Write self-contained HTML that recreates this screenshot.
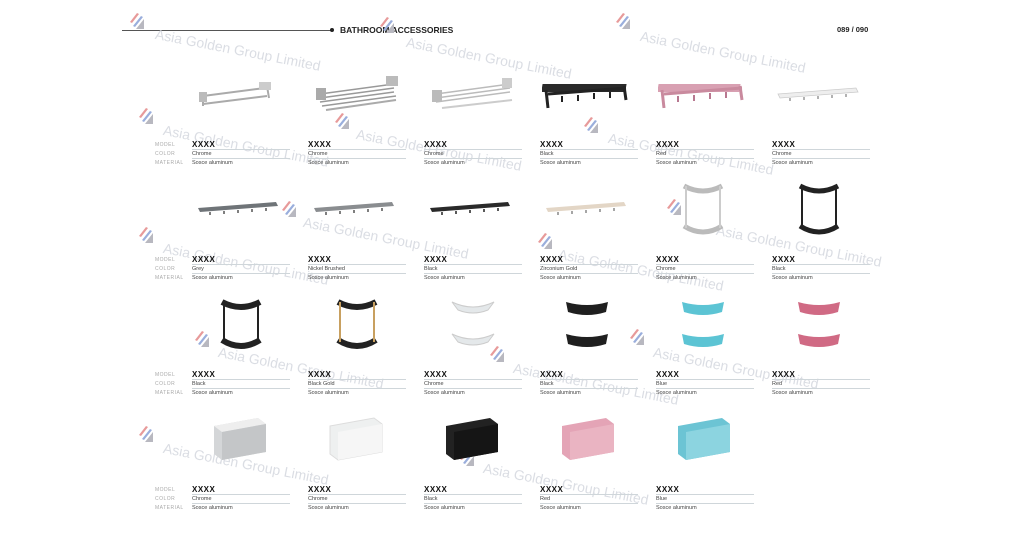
<!DOCTYPE html>
<html><head><meta charset="utf-8">
<style>
*{margin:0;padding:0;box-sizing:border-box}
body{width:1024px;height:544px;background:#fff;position:relative;overflow:hidden;font-family:"Liberation Sans",sans-serif}
.a{position:absolute}
.lbl{position:absolute;font-size:5px;color:#aaa;letter-spacing:.5px}
.m{position:absolute;font-size:8px;font-weight:bold;color:#111;letter-spacing:.5px}
.v{position:absolute;font-size:5.5px;color:#444}
.ln{position:absolute;height:1px;background:#cfd6da;width:98px}
.wm{position:absolute;font-size:14px;color:#d2d5dd;transform:rotate(11deg);transform-origin:left top;white-space:nowrap;opacity:.8}
.lg{position:absolute;width:16px;height:18px}
.rk{position:absolute}
</style></head><body>
<div class="a" style="left:122px;top:30px;width:210px;height:1px;background:#555"></div>
<div class="a" style="left:330px;top:28px;width:4px;height:4px;border-radius:2px;background:#222"></div>
<div class="a" style="left:340px;top:25px;font-size:8.5px;font-weight:bold;color:#222">BATHROOM ACCESSORIES</div>
<div class="a" style="left:837px;top:25px;font-size:7.5px;font-weight:bold;color:#222">089 / 090</div>

<div class="wm" style="left:157px;top:26px">Asia Golden Group Limited</div>
<div class="wm" style="left:408px;top:34px">Asia Golden Group Limited</div>
<div class="wm" style="left:642px;top:28px">Asia Golden Group Limited</div>
<div class="wm" style="left:165px;top:122px">Asia Golden Group Limited</div>
<div class="wm" style="left:358px;top:126px">Asia Golden Group Limited</div>
<div class="wm" style="left:610px;top:130px">Asia Golden Group Limited</div>
<div class="wm" style="left:305px;top:214px">Asia Golden Group Limited</div>
<div class="wm" style="left:165px;top:240px">Asia Golden Group Limited</div>
<div class="wm" style="left:560px;top:246px">Asia Golden Group Limited</div>
<div class="wm" style="left:718px;top:222px">Asia Golden Group Limited</div>
<div class="wm" style="left:220px;top:344px">Asia Golden Group Limited</div>
<div class="wm" style="left:515px;top:360px">Asia Golden Group Limited</div>
<div class="wm" style="left:655px;top:344px">Asia Golden Group Limited</div>
<div class="wm" style="left:165px;top:440px">Asia Golden Group Limited</div>
<div class="wm" style="left:485px;top:460px">Asia Golden Group Limited</div>

<svg width="0" height="0" style="position:absolute"><defs><g id="lg"><path d="M2 10 L9 1 L11 2 L4 11Z" fill="#e79a9a"/><path d="M5 14 L13 4 L15 5 L7 15Z" fill="#9aaedc"/><path d="M8 17 L16 7 L17 17Z" fill="#b8b8c0"/></g></defs></svg>
<svg class="lg" style="left:128px;top:12px"><use href="#lg"/></svg>
<svg class="lg" style="left:378px;top:16px"><use href="#lg"/></svg>
<svg class="lg" style="left:614px;top:12px"><use href="#lg"/></svg>
<svg class="lg" style="left:137px;top:107px"><use href="#lg"/></svg>
<svg class="lg" style="left:333px;top:112px"><use href="#lg"/></svg>
<svg class="lg" style="left:582px;top:116px"><use href="#lg"/></svg>
<svg class="lg" style="left:280px;top:200px"><use href="#lg"/></svg>
<svg class="lg" style="left:137px;top:226px"><use href="#lg"/></svg>
<svg class="lg" style="left:536px;top:232px"><use href="#lg"/></svg>
<svg class="lg" style="left:665px;top:198px"><use href="#lg"/></svg>
<svg class="lg" style="left:193px;top:330px"><use href="#lg"/></svg>
<svg class="lg" style="left:488px;top:345px"><use href="#lg"/></svg>
<svg class="lg" style="left:628px;top:328px"><use href="#lg"/></svg>
<svg class="lg" style="left:137px;top:425px"><use href="#lg"/></svg>
<svg class="lg" style="left:458px;top:449px"><use href="#lg"/></svg>

<svg class="rk" style="left:195px;top:74px" width="90" height="36"><path d="M8 22 L70 14 M8 30 L72 22 M8 20 L8 32 M72 12 L74 24" stroke="#aaa" stroke-width="2" fill="none"/><rect x="64" y="8" width="12" height="8" fill="#ccc"/><rect x="4" y="18" width="8" height="10" fill="#bbb"/></svg>
<svg class="rk" style="left:312px;top:72px" width="96" height="40"><path d="M8 22 L82 12 M8 26 L82 16 M8 30 L82 20 M10 34 L84 24" stroke="#999" stroke-width="1.5" fill="none"/><rect x="74" y="4" width="12" height="10" fill="#bbb"/><rect x="4" y="16" width="10" height="12" fill="#aaa"/><path d="M14 38 L84 28" stroke="#aaa" stroke-width="2"/></svg>
<svg class="rk" style="left:428px;top:74px" width="96" height="38"><path d="M8 20 L82 10 M8 24 L82 14 M8 28 L82 18" stroke="#bbb" stroke-width="1.5" fill="none"/><rect x="74" y="4" width="10" height="10" fill="#ccc"/><rect x="4" y="16" width="10" height="12" fill="#bbb"/><path d="M14 34 L84 26" stroke="#ccc" stroke-width="2"/></svg>
<svg class="rk" style="left:542px;top:76px" width="90" height="36"><rect x="2" y="8" width="84" height="8" fill="#2a2a2a" transform="skewX(-10)"/><path d="M6 18 L84 12" stroke="#222" stroke-width="3"/><path d="M4 14 L6 32 M82 10 L84 24" stroke="#222" stroke-width="3"/><path d="M20 20 v6 M36 19 v6 M52 17 v6 M68 16 v6" stroke="#222" stroke-width="2"/></svg>
<svg class="rk" style="left:658px;top:76px" width="90" height="36"><rect x="2" y="8" width="82" height="8" fill="#d8a0b2" transform="skewX(-10)"/><path d="M6 18 L84 12" stroke="#c98a9e" stroke-width="3"/><path d="M4 14 L6 32 M82 10 L84 24" stroke="#c98a9e" stroke-width="3"/><path d="M20 20 v6 M36 19 v6 M52 17 v6 M68 16 v6" stroke="#b87890" stroke-width="2"/></svg>
<svg class="rk" style="left:776px;top:86px" width="84" height="18"><path d="M2 8 L80 2 L82 6 L4 12Z" fill="#eee" stroke="#ccc" stroke-width=".8"/><path d="M14 12 v3 M28 11 v3 M42 10 v3 M56 9 v3 M70 8 v3" stroke="#999" stroke-width="1.5"/></svg>

<svg class="rk" style="left:196px;top:200px" width="84" height="18"><path d="M2 8 L80 2 L82 6 L4 12Z" fill="#6f7478"/><path d="M14 12 v3 M28 11 v3 M42 10 v3 M56 9 v3 M70 8 v3" stroke="#555" stroke-width="1.5"/></svg>
<svg class="rk" style="left:312px;top:200px" width="84" height="18"><path d="M2 8 L80 2 L82 6 L4 12Z" fill="#8a8d90"/><path d="M14 12 v3 M28 11 v3 M42 10 v3 M56 9 v3 M70 8 v3" stroke="#555" stroke-width="1.5"/></svg>
<svg class="rk" style="left:428px;top:200px" width="84" height="18"><path d="M2 8 L80 2 L82 6 L4 12Z" fill="#2a2a2a"/><path d="M14 12 v3 M28 11 v3 M42 10 v3 M56 9 v3 M70 8 v3" stroke="#222" stroke-width="1.5"/></svg>
<svg class="rk" style="left:544px;top:200px" width="84" height="18"><path d="M2 8 L80 2 L82 6 L4 12Z" fill="#e3d6c6"/><path d="M14 12 v3 M28 11 v3 M42 10 v3 M56 9 v3 M70 8 v3" stroke="#888" stroke-width="1.5"/></svg>
<svg class="rk" style="left:680px;top:180px" width="46" height="60"><path d="M4 6 Q23 16 42 6 M4 46 Q23 58 42 46" stroke="#bbb" stroke-width="5" fill="none"/><path d="M6 6 V48 M40 6 V48" stroke="#ccc" stroke-width="2"/></svg>
<svg class="rk" style="left:796px;top:180px" width="46" height="60"><path d="M4 6 Q23 16 42 6 M4 46 Q23 58 42 46" stroke="#222" stroke-width="5" fill="none"/><path d="M6 6 V48 M40 6 V48" stroke="#222" stroke-width="2"/></svg>

<svg class="rk" style="left:218px;top:296px" width="46" height="58"><path d="M4 6 Q23 16 42 6 M4 44 Q23 56 42 44" stroke="#222" stroke-width="6" fill="none"/><path d="M6 6 V46 M40 6 V46" stroke="#222" stroke-width="2"/></svg>
<svg class="rk" style="left:334px;top:296px" width="46" height="58"><path d="M4 6 Q23 16 42 6 M4 44 Q23 56 42 44" stroke="#222" stroke-width="6" fill="none"/><path d="M6 6 V46 M40 6 V46" stroke="#c8a060" stroke-width="2"/></svg>
<svg class="rk" style="left:448px;top:296px" width="50" height="56"><path d="M4 6 Q25 16 46 6 L40 14 Q25 20 10 14Z M4 38 Q25 48 46 38 L40 46 Q25 52 10 46Z" fill="#e4e8ea" stroke="#ccc"/></svg>
<svg class="rk" style="left:562px;top:296px" width="50" height="56"><path d="M4 6 Q25 12 46 6 L44 16 Q25 22 6 16Z M4 38 Q25 44 46 38 L44 48 Q25 54 6 48Z" fill="#1f1f1f"/></svg>
<svg class="rk" style="left:678px;top:296px" width="50" height="56"><path d="M4 6 Q25 12 46 6 L44 16 Q25 22 6 16Z M4 38 Q25 44 46 38 L44 48 Q25 54 6 48Z" fill="#5cc4d4"/></svg>
<svg class="rk" style="left:794px;top:296px" width="50" height="56"><path d="M4 6 Q25 12 46 6 L44 16 Q25 22 6 16Z M4 38 Q25 44 46 38 L44 48 Q25 54 6 48Z" fill="#d06a84"/></svg>

<svg class="rk" style="left:210px;top:416px" width="62" height="46"><path d="M4 10 L48 2 L56 8 L56 36 L12 44 L4 38Z" fill="#d4d6d8"/><path d="M4 10 L48 2 L56 8 L12 16Z" fill="#eee"/><path d="M12 16 L56 8 L56 36 L12 44Z" fill="#c4c6c8"/></svg>
<svg class="rk" style="left:326px;top:416px" width="62" height="46"><path d="M4 10 L48 2 L56 8 L56 36 L12 44 L4 38Z" fill="#eef0f0" stroke="#ddd"/><path d="M12 16 L56 8 L56 36 L12 44Z" fill="#f6f6f6"/></svg>
<svg class="rk" style="left:442px;top:416px" width="62" height="46"><path d="M4 10 L48 2 L56 8 L56 36 L12 44 L4 38Z" fill="#222"/><path d="M12 16 L56 8 L56 36 L12 44Z" fill="#151515"/></svg>
<svg class="rk" style="left:558px;top:416px" width="62" height="46"><path d="M4 10 L48 2 L56 8 L56 36 L12 44 L4 38Z" fill="#e4a4b6"/><path d="M12 16 L56 8 L56 36 L12 44Z" fill="#eab4c2"/></svg>
<svg class="rk" style="left:674px;top:416px" width="62" height="46"><path d="M4 10 L48 2 L56 8 L56 36 L12 44 L4 38Z" fill="#6cc4d4"/><path d="M12 16 L56 8 L56 36 L12 44Z" fill="#8cd4e0"/></svg>

<div class="lbl" style="left:155px;top:142px">MODEL</div><div class="lbl" style="left:155px;top:151px">COLOR</div><div class="lbl" style="left:155px;top:160px">MATERIAL</div>
<div class="m" style="left:192px;top:140px">XXXX</div><div class="ln" style="left:192px;top:149px"></div><div class="v" style="left:192px;top:151px">Chrome</div><div class="ln" style="left:192px;top:158px"></div><div class="v" style="left:192px;top:160px">Sosce aluminum</div>
<div class="m" style="left:308px;top:140px">XXXX</div><div class="ln" style="left:308px;top:149px"></div><div class="v" style="left:308px;top:151px">Chrome</div><div class="ln" style="left:308px;top:158px"></div><div class="v" style="left:308px;top:160px">Sosce aluminum</div>
<div class="m" style="left:424px;top:140px">XXXX</div><div class="ln" style="left:424px;top:149px"></div><div class="v" style="left:424px;top:151px">Chrome</div><div class="ln" style="left:424px;top:158px"></div><div class="v" style="left:424px;top:160px">Sosce aluminum</div>
<div class="m" style="left:540px;top:140px">XXXX</div><div class="ln" style="left:540px;top:149px"></div><div class="v" style="left:540px;top:151px">Black</div><div class="ln" style="left:540px;top:158px"></div><div class="v" style="left:540px;top:160px">Sosce aluminum</div>
<div class="m" style="left:656px;top:140px">XXXX</div><div class="ln" style="left:656px;top:149px"></div><div class="v" style="left:656px;top:151px">Red</div><div class="ln" style="left:656px;top:158px"></div><div class="v" style="left:656px;top:160px">Sosce aluminum</div>
<div class="m" style="left:772px;top:140px">XXXX</div><div class="ln" style="left:772px;top:149px"></div><div class="v" style="left:772px;top:151px">Chrome</div><div class="ln" style="left:772px;top:158px"></div><div class="v" style="left:772px;top:160px">Sosce aluminum</div>

<div class="lbl" style="left:155px;top:257px">MODEL</div><div class="lbl" style="left:155px;top:266px">COLOR</div><div class="lbl" style="left:155px;top:275px">MATERIAL</div>
<div class="m" style="left:192px;top:255px">XXXX</div><div class="ln" style="left:192px;top:264px"></div><div class="v" style="left:192px;top:266px">Grey</div><div class="ln" style="left:192px;top:273px"></div><div class="v" style="left:192px;top:275px">Sosce aluminum</div>
<div class="m" style="left:308px;top:255px">XXXX</div><div class="ln" style="left:308px;top:264px"></div><div class="v" style="left:308px;top:266px">Nickel Brushed</div><div class="ln" style="left:308px;top:273px"></div><div class="v" style="left:308px;top:275px">Sosce aluminum</div>
<div class="m" style="left:424px;top:255px">XXXX</div><div class="ln" style="left:424px;top:264px"></div><div class="v" style="left:424px;top:266px">Black</div><div class="ln" style="left:424px;top:273px"></div><div class="v" style="left:424px;top:275px">Sosce aluminum</div>
<div class="m" style="left:540px;top:255px">XXXX</div><div class="ln" style="left:540px;top:264px"></div><div class="v" style="left:540px;top:266px">Zirconium Gold</div><div class="ln" style="left:540px;top:273px"></div><div class="v" style="left:540px;top:275px">Sosce aluminum</div>
<div class="m" style="left:656px;top:255px">XXXX</div><div class="ln" style="left:656px;top:264px"></div><div class="v" style="left:656px;top:266px">Chrome</div><div class="ln" style="left:656px;top:273px"></div><div class="v" style="left:656px;top:275px">Sosce aluminum</div>
<div class="m" style="left:772px;top:255px">XXXX</div><div class="ln" style="left:772px;top:264px"></div><div class="v" style="left:772px;top:266px">Black</div><div class="ln" style="left:772px;top:273px"></div><div class="v" style="left:772px;top:275px">Sosce aluminum</div>

<div class="lbl" style="left:155px;top:372px">MODEL</div><div class="lbl" style="left:155px;top:381px">COLOR</div><div class="lbl" style="left:155px;top:390px">MATERIAL</div>
<div class="m" style="left:192px;top:370px">XXXX</div><div class="ln" style="left:192px;top:379px"></div><div class="v" style="left:192px;top:381px">Black</div><div class="ln" style="left:192px;top:388px"></div><div class="v" style="left:192px;top:390px">Sosce aluminum</div>
<div class="m" style="left:308px;top:370px">XXXX</div><div class="ln" style="left:308px;top:379px"></div><div class="v" style="left:308px;top:381px">Black Gold</div><div class="ln" style="left:308px;top:388px"></div><div class="v" style="left:308px;top:390px">Sosce aluminum</div>
<div class="m" style="left:424px;top:370px">XXXX</div><div class="ln" style="left:424px;top:379px"></div><div class="v" style="left:424px;top:381px">Chrome</div><div class="ln" style="left:424px;top:388px"></div><div class="v" style="left:424px;top:390px">Sosce aluminum</div>
<div class="m" style="left:540px;top:370px">XXXX</div><div class="ln" style="left:540px;top:379px"></div><div class="v" style="left:540px;top:381px">Black</div><div class="ln" style="left:540px;top:388px"></div><div class="v" style="left:540px;top:390px">Sosce aluminum</div>
<div class="m" style="left:656px;top:370px">XXXX</div><div class="ln" style="left:656px;top:379px"></div><div class="v" style="left:656px;top:381px">Blue</div><div class="ln" style="left:656px;top:388px"></div><div class="v" style="left:656px;top:390px">Sosce aluminum</div>
<div class="m" style="left:772px;top:370px">XXXX</div><div class="ln" style="left:772px;top:379px"></div><div class="v" style="left:772px;top:381px">Red</div><div class="ln" style="left:772px;top:388px"></div><div class="v" style="left:772px;top:390px">Sosce aluminum</div>

<div class="lbl" style="left:155px;top:487px">MODEL</div><div class="lbl" style="left:155px;top:496px">COLOR</div><div class="lbl" style="left:155px;top:505px">MATERIAL</div>
<div class="m" style="left:192px;top:485px">XXXX</div><div class="ln" style="left:192px;top:494px"></div><div class="v" style="left:192px;top:496px">Chrome</div><div class="ln" style="left:192px;top:503px"></div><div class="v" style="left:192px;top:505px">Sosce aluminum</div>
<div class="m" style="left:308px;top:485px">XXXX</div><div class="ln" style="left:308px;top:494px"></div><div class="v" style="left:308px;top:496px">Chrome</div><div class="ln" style="left:308px;top:503px"></div><div class="v" style="left:308px;top:505px">Sosce aluminum</div>
<div class="m" style="left:424px;top:485px">XXXX</div><div class="ln" style="left:424px;top:494px"></div><div class="v" style="left:424px;top:496px">Black</div><div class="ln" style="left:424px;top:503px"></div><div class="v" style="left:424px;top:505px">Sosce aluminum</div>
<div class="m" style="left:540px;top:485px">XXXX</div><div class="ln" style="left:540px;top:494px"></div><div class="v" style="left:540px;top:496px">Red</div><div class="ln" style="left:540px;top:503px"></div><div class="v" style="left:540px;top:505px">Sosce aluminum</div>
<div class="m" style="left:656px;top:485px">XXXX</div><div class="ln" style="left:656px;top:494px"></div><div class="v" style="left:656px;top:496px">Blue</div><div class="ln" style="left:656px;top:503px"></div><div class="v" style="left:656px;top:505px">Sosce aluminum</div>
</body></html>
